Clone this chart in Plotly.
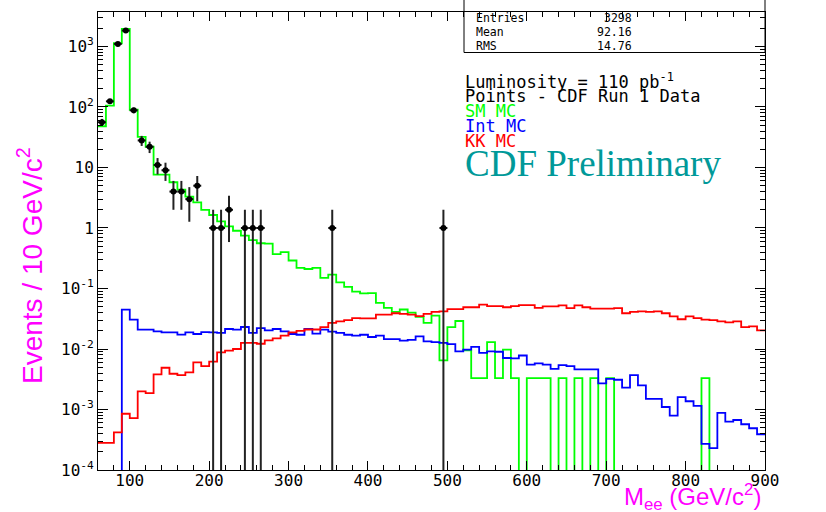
import math
import plotly.graph_objects as go

# ---------------- data ----------------
bin_edges = list(range(60, 910, 10))  # 84 bins of 10 GeV

sm_mc = [48, 105, 1130, 1950, 90, 32, 22, 7.6, 7.6, 5.7,
         4.3, 3.3, 2.65, 2.0, 1.64, 1.29, 1.06, 0.90, 0.75, 0.63,
         0.56, 0.55, 0.37, 0.40, 0.29, 0.22, 0.21, 0.22, 0.15, 0.17,
         0.126, 0.106, 0.089, 0.083, 0.084, 0.058, 0.048, 0.041, 0.045, 0.040,
         0.034, 0.027, 0.0355, 0.0065, 0.023, 0.029, 0.0095, 0.0033, 0.0033, 0.013,
         0.0033, 0.0098, 0.0033, 0, 0.0033, 0.0033, 0.0033, 0, 0.0033, 0,
         0.0033, 0, 0.0033, 0, 0.0033, 0, 0, 0, 0, 0,
         0, 0, 0, 0, 0, 0, 0.0033, 0, 0, 0,
         0, 0, 0, 0]

int_mc = [0, 0, 0, 0.0446, 0.0305, 0.0209, 0.0209, 0.0195, 0.0188, 0.0188,
          0.0173, 0.0188, 0.0177, 0.019, 0.0188, 0.0184, 0.0214, 0.0209, 0.0231, 0.0184,
          0.0222, 0.0203, 0.0214, 0.0195, 0.0177, 0.0172, 0.0214, 0.0179, 0.0209, 0.0193,
          0.0184, 0.0172, 0.0166, 0.0172, 0.0158, 0.0166, 0.0146, 0.0146, 0.0137, 0.0142,
          0.0162, 0.0134, 0.013, 0.0126, 0.012, 0.0091, 0.0098, 0.0108, 0.0086, 0.0091,
          0.009, 0.0071, 0.007, 0.0078, 0.0055, 0.0058, 0.0055, 0.0047, 0.0054, 0.0052,
          0.0046, 0.0046, 0.0046, 0.0027, 0.0032, 0.0031, 0.0023, 0.0037, 0.0025, 0.0015,
          0.0015, 0.0011, 0.00079, 0.0016, 0.00137, 0.00115, 0.00027, 0.00023, 0.00088, 0.00063,
          0.00067, 0.00057, 0.00049, 0.00039]

kk_mc = [2.8e-4, 2.8e-4, 4.2e-4, 8.5e-4, 7.2e-4, 2.0e-3, 1.87e-3, 3.8e-3, 4.9e-3, 3.9e-3,
         3.7e-3, 4.1e-3, 6.0e-3, 5.2e-3, 6.2e-3, 8.8e-3, 9.4e-3, 0.010, 0.0126, 0.0126,
         0.0122, 0.0139, 0.015, 0.0166, 0.0188, 0.020, 0.021, 0.021, 0.023, 0.027,
         0.0287, 0.030, 0.0325, 0.032, 0.032, 0.037, 0.037, 0.039, 0.038, 0.037,
         0.035, 0.038, 0.041, 0.042, 0.0457, 0.0457, 0.049, 0.049, 0.054, 0.051,
         0.051, 0.049, 0.051, 0.053, 0.053, 0.048, 0.0506, 0.0506, 0.0527, 0.0475,
         0.0527, 0.049, 0.0465, 0.0465, 0.0465, 0.0475, 0.039, 0.041, 0.042, 0.041,
         0.042, 0.039, 0.0346, 0.031, 0.0346, 0.0325, 0.0305, 0.030, 0.0287, 0.0276,
         0.0287, 0.023, 0.0237, 0.0203]

data_mass = [65, 75, 85, 95, 105, 115, 125, 135, 145, 155, 165, 175, 185,
             205, 215, 225, 245, 255, 265, 355, 495]
data_counts = [56, 124, 1104, 1831, 88, 28, 22, 11, 9, 4, 4, 3, 5,
               1, 1, 2, 1, 1, 1, 1, 1]

y_tick_vals = [1e-4, 1e-3, 1e-2, 1e-1, 1, 10, 100, 1000]
y_tick_text = ["10<sup>-4</sup>", "10<sup>-3</sup>", "10<sup>-2</sup>", "10<sup>-1</sup>",
               "1", "10", "10<sup>2</sup>", "10<sup>3</sup>"]
x_tick_vals = [100, 200, 300, 400, 500, 600, 700, 800, 900]
x_tick_text = [str(v) for v in x_tick_vals]

stats_labels = ["Entries", "Mean", "RMS"]
stats_values = ["3298", "92.16", "14.76"]

# ---------------- helpers ----------------
W, H = 826, 512
PL, PR, PT, PB = 98, 765, 12, 470
FLOOR = 1e-9


def px_x(px):
    return (px - PL) / (PR - PL)


def px_y(py):
    return (PB - py) / (PB - PT)


def step(vals):
    ys = [v if v > 0 else FLOOR for v in vals]
    return bin_edges, ys + [ys[-1]]


fig = go.Figure()

for vals, col, name in [(sm_mc, "#00ff00", "SM MC"), (int_mc, "#0000ff", "Int MC"),
                        (kk_mc, "#ff0000", "KK MC")]:
    sx, sy = step(vals)
    fig.add_trace(go.Scatter(x=sx, y=sy, mode="lines", line_shape="hv",
                             line=dict(color=col, width=1.8), name=name,
                             showlegend=False, hoverinfo="skip"))

err_up = [math.sqrt(n) for n in data_counts]
err_dn = [min(math.sqrt(n), n - FLOOR) for n in data_counts]
fig.add_trace(go.Scatter(
    x=data_mass, y=data_counts, mode="markers",
    marker=dict(color="black", size=6, symbol="circle"),
    error_y=dict(type="data", array=err_up, arrayminus=err_dn, symmetric=False,
                 color="#222222", thickness=2, width=0),
    error_x=dict(type="constant", value=5, color="#111111", thickness=2, width=0),
    showlegend=False, hoverinfo="skip"))

mono = "DejaVu Sans Mono"
fig.update_layout(
    width=W, height=H,
    margin=dict(l=PL, r=W - PR, t=PT, b=H - PB),
    paper_bgcolor="white", plot_bgcolor="white",
    showlegend=False,
    xaxis=dict(range=[60, 900], tickmode="array", tickvals=x_tick_vals, ticktext=x_tick_text,
               ticks="inside", ticklen=9, tickcolor="black", showline=True, linecolor="black",
               linewidth=1, mirror="allticks", showgrid=False, zeroline=False,
               tickfont=dict(family=mono, size=16, color="black"), ticklabelstandoff=-4,
               minor=dict(dtick=20, tick0=0, ticks="inside", ticklen=5, tickcolor="black",
                          showgrid=False)),
    yaxis=dict(type="log", range=[-4, 3.57], tickmode="array", tickvals=y_tick_vals,
               ticktext=y_tick_text, ticks="inside", ticklen=10, tickcolor="black",
               showline=True, linecolor="black", linewidth=1, mirror="allticks",
               showgrid=False, zeroline=False,
               tickfont=dict(family=mono, size=16, color="black"),
               minor=dict(dtick="D1", ticks="inside", ticklen=5, tickcolor="black",
                          showgrid=False)),
)

# stats box
fig.add_shape(type="rect", xref="paper", yref="paper",
              x0=px_x(464), x1=px_x(765), y0=px_y(52.5), y1=px_y(-10),
              line=dict(color="black", width=1), fillcolor="rgba(0,0,0,0)")
for i, (lab, val) in enumerate(zip(stats_labels, stats_values)):
    yy = px_y(18 + 14.2 * i)
    fig.add_annotation(xref="paper", yref="paper", x=px_x(474), y=yy, text=lab,
                       xanchor="left", yanchor="middle", showarrow=False,
                       font=dict(family=mono, size=11.5, color="black"))
    fig.add_annotation(xref="paper", yref="paper", x=px_x(634), y=yy, text=val,
                       xanchor="right", yanchor="middle", showarrow=False,
                       font=dict(family=mono, size=11.5, color="black"))

# legend text
legend_lines = [
    ("Luminosity = 110 pb<sup>-1</sup>", "black", 81),
    ("Points - CDF Run 1 Data", "black", 96),
    ("SM MC", "#00ff00", 111),
    ("Int MC", "#0000ff", 126),
    ("KK MC", "#ff0000", 141),
]
for txt, col, yy in legend_lines:
    fig.add_annotation(xref="paper", yref="paper", x=px_x(463), y=px_y(yy), text=txt,
                       xanchor="left", yanchor="middle", showarrow=False,
                       font=dict(family=mono, size=17, color=col))
fig.add_annotation(xref="paper", yref="paper", x=px_x(463), y=px_y(163), text="CDF Preliminary",
                   xanchor="left", yanchor="middle", showarrow=False,
                   font=dict(family="Liberation Serif", size=37, color="#009999"))

# axis titles
fig.add_annotation(xref="paper", yref="paper", x=px_x(30), y=px_y(266),
                   text="Events / 10 GeV/c<sup>2</sup>", textangle=-90,
                   xanchor="center", yanchor="middle", showarrow=False,
                   font=dict(family="Liberation Sans", size=28, color="#ff00ff"))
fig.add_annotation(xref="paper", yref="paper", x=px_x(763), y=px_y(497),
                   text="M<sub>ee</sub> (GeV/c<sup>2</sup>)",
                   xanchor="right", yanchor="middle", showarrow=False,
                   font=dict(family="Liberation Sans", size=24, color="#ff00ff"))

fig.write_html("out.html")
